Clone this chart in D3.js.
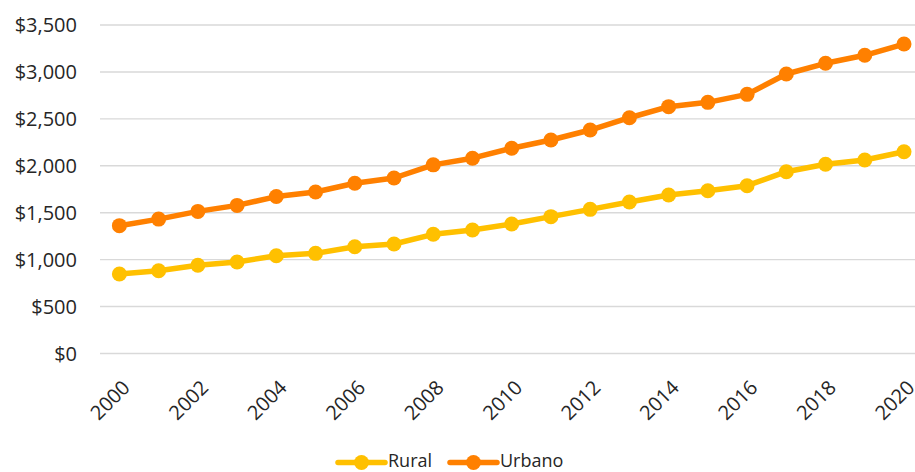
<!DOCTYPE html>
<html>
<head>
<meta charset="utf-8">
<script src="https://cdn.jsdelivr.net/npm/d3@7"></script>
<style>
  html, body { margin: 0; padding: 0; background: #fff; }
  svg text { font-family: "Open Sans", "Noto Sans", sans-serif; fill: #262626; }
</style>
</head>
<body>
<svg id="chart" width="915" height="472"></svg>
<script>
const years = [2000,2001,2002,2003,2004,2005,2006,2007,2008,2009,2010,2011,2012,2013,2014,2015,2016,2017,2018,2019,2020];
const rural = [847,882,940,975,1042,1067,1138,1167,1270,1316,1380,1458,1536,1614,1689,1734,1788,1937,2016,2062,2150];
const urbano = [1362,1432,1514,1578,1672,1721,1814,1870,2010,2081,2187,2275,2381,2512,2630,2676,2761,2978,3092,3177,3297];
const yTicks = [0,500,1000,1500,2000,2500,3000,3500];
const xTickLabels = [2000,2002,2004,2006,2008,2010,2012,2014,2016,2018,2020];
const seriesNames = ["Rural", "Urbano"];
const seriesColors = ["#FFC000", "#FF8000"];

const svg = d3.select("#chart");
const plotLeft = 100, plotRight = 915;

const x = d3.scalePoint().domain(years).range([119.4, 904]);
const y = d3.scaleLinear().domain([0, 3500]).range([353.5, 25]);

// gridlines
svg.append("g").selectAll("line").data(yTicks).join("line")
  .attr("x1", plotLeft).attr("x2", plotRight)
  .attr("y1", d => y(d)).attr("y2", d => y(d))
  .attr("stroke", "#D9D9D9").attr("stroke-width", 1.4);

// y labels
const fmt = d => "$" + d3.format(",")(d);
svg.append("g").selectAll("text").data(yTicks).join("text")
  .attr("x", 77).attr("y", d => y(d)).attr("dy", "0.36em")
  .attr("text-anchor", "end").attr("font-size", 20)
  .text(fmt);

// x labels
svg.append("g").selectAll("text").data(xTickLabels).join("text")
  .attr("transform", d => `translate(${x(d) + 11.8},${388.8}) rotate(-45)`)
  .attr("text-anchor", "end").attr("font-size", 20)
  .text(d => d);

const seriesData = [rural, urbano];
const line = d3.line().x((d, i) => x(years[i])).y(d => y(d));

seriesData.forEach((vals, si) => {
  const g = svg.append("g");
  g.append("path").datum(vals)
    .attr("d", line).attr("fill", "none")
    .attr("stroke", seriesColors[si]).attr("stroke-width", 5.5)
    .attr("stroke-linejoin", "round").attr("stroke-linecap", "round");
  g.selectAll("circle").data(vals).join("circle")
    .attr("cx", (d, i) => x(years[i])).attr("cy", d => y(d))
    .attr("r", 7.5).attr("fill", seriesColors[si]);
});

// legend
const legendItems = [
  { name: seriesNames[0], color: seriesColors[0], x0: 338 },
  { name: seriesNames[1], color: seriesColors[1], x0: 450 }
];
const ly = 462.5;
const lg = svg.append("g");
legendItems.forEach(it => {
  lg.append("line").attr("x1", it.x0).attr("x2", it.x0 + 47)
    .attr("y1", ly).attr("y2", ly)
    .attr("stroke", it.color).attr("stroke-width", 5.5).attr("stroke-linecap", "round");
  lg.append("circle").attr("cx", it.x0 + 23.5).attr("cy", ly).attr("r", 7.5).attr("fill", it.color);
  lg.append("text").attr("x", it.x0 + 50).attr("y", 467)
    .attr("font-size", 18).text(it.name);
});
</script>
</body>
</html>
